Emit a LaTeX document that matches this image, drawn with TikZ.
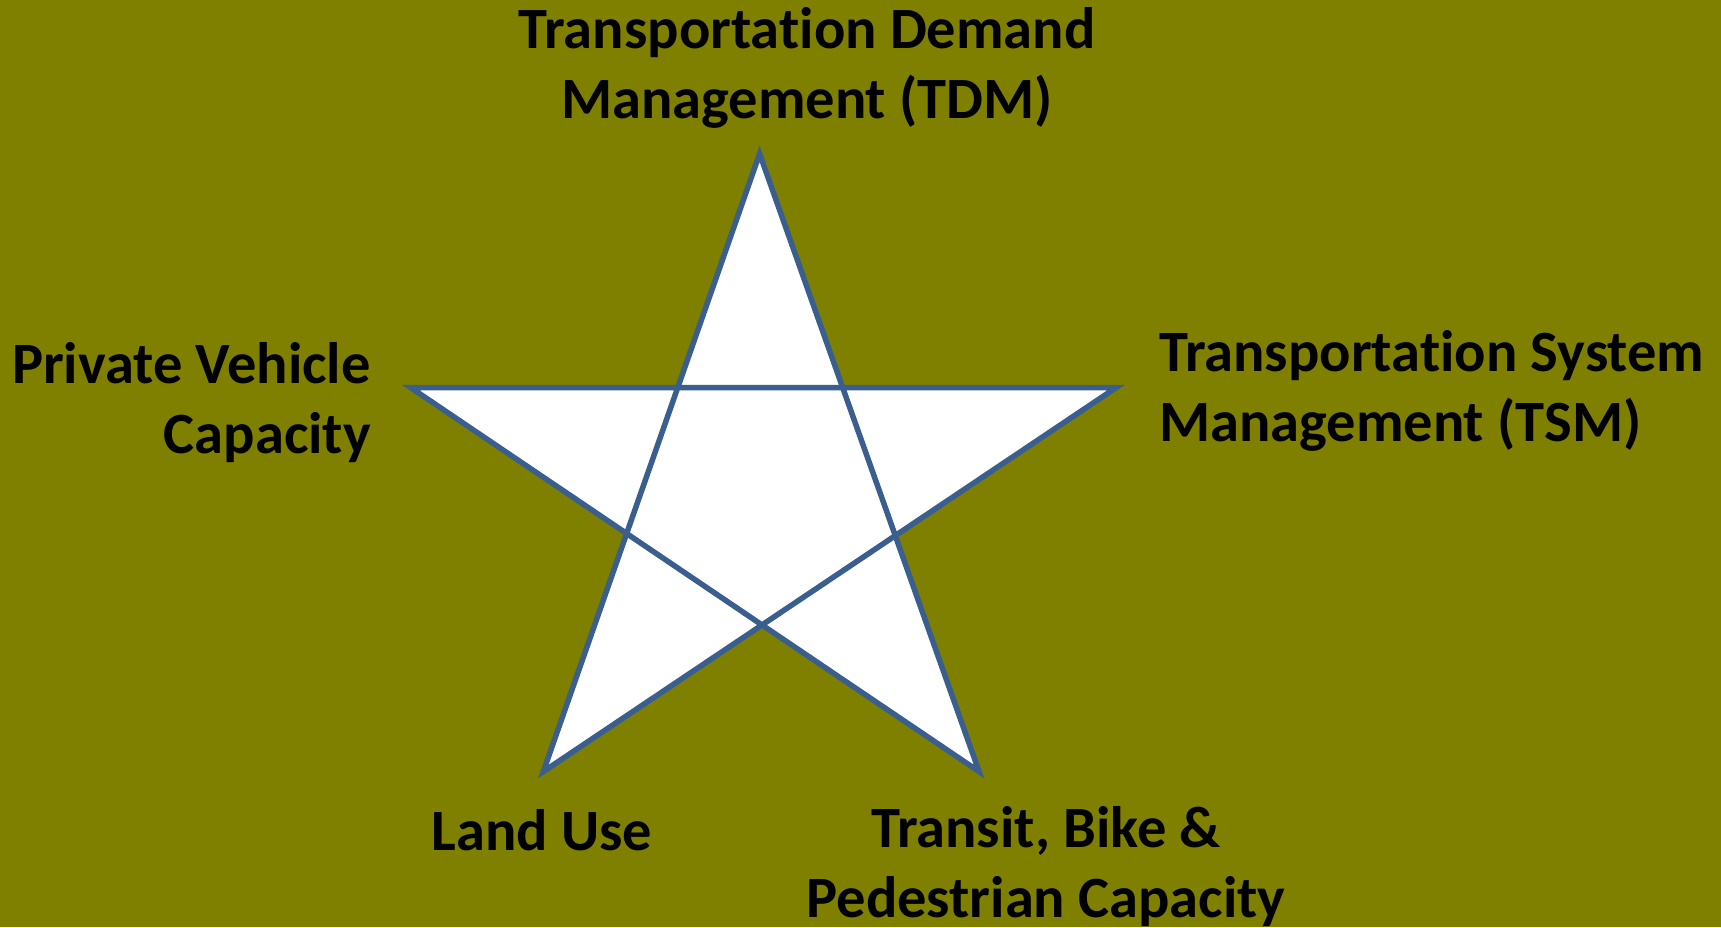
\documentclass[tikz,border=0pt]{standalone}
\usepackage{fontspec}
\setmainfont[Ligatures=NoCommon]{Carlito}
\definecolor{olivebg}{HTML}{808000}
\definecolor{starblue}{HTML}{3A5F8F}
\begin{document}
\begin{tikzpicture}[x=1pt,y=-1pt,
  lbl/.style={font=\bfseries\fontsize{58.5}{70}\selectfont, text=black, inner sep=0pt}]
\fill[olivebg] (0,0) rectangle (1721,927);
\useasboundingbox (0,0) rectangle (1721,927);
\coordinate (A) at (759.6,153.7);
\coordinate (L) at (410.5,387.5);
\coordinate (R) at (1116.3,387.5);
\coordinate (BL) at (543.3,771.6);
\coordinate (BR) at (979.1,771.6);
\draw[white, line width=2.5pt, line join=miter, shift={(2.5,2.5)}] (A) -- (BL) -- (R) -- (L) -- (BR) -- cycle;
\draw[starblue, fill=white, line width=5.5pt, line join=miter] (A) -- (BL) -- (R) -- (L) -- (BR) -- cycle;
\node[lbl, align=center] (tdm) at (807,68) {Transportation Demand\\Management (TDM)};
\node[lbl, align=right, anchor=east] (pvc) at (371,403) {Private Vehicle\\Capacity};
\node[lbl, align=left, anchor=west] (tsm) at (1159,391) {Transportation System\\Management (TSM)};
\node[lbl] (lu) at (542,830) {Land Use};
\node[lbl, align=center] (tbp) at (1046,867) {Transit, Bike \&\\Pedestrian Capacity};
\end{tikzpicture}
\end{document}
